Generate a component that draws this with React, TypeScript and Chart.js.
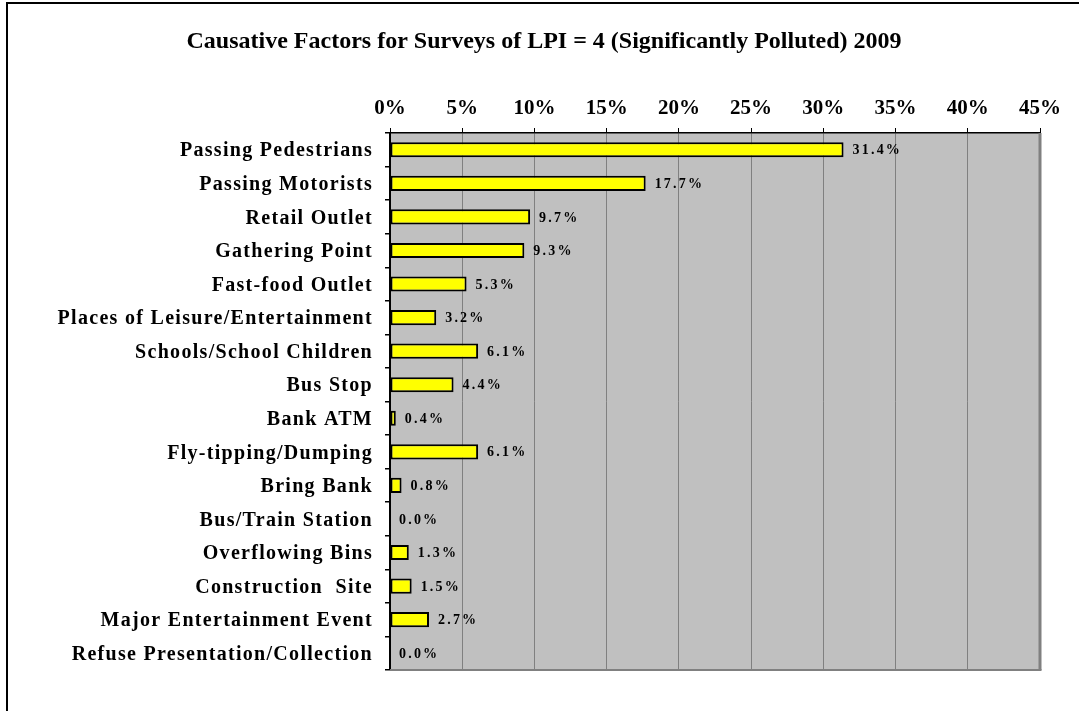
import React, { useEffect, useRef } from "react";
import { Chart, registerables } from "chart.js";

Chart.register(...registerables);

const TITLE = "Causative Factors for Surveys of LPI = 4 (Significantly Polluted) 2009";

const categories = [
  "Passing Pedestrians",
  "Passing Motorists",
  "Retail Outlet",
  "Gathering Point",
  "Fast-food Outlet",
  "Places of Leisure/Entertainment",
  "Schools/School Children",
  "Bus Stop",
  "Bank ATM",
  "Fly-tipping/Dumping",
  "Bring Bank",
  "Bus/Train Station",
  "Overflowing Bins",
  "Construction  Site",
  "Major Entertainment Event",
  "Refuse Presentation/Collection",
];

const values = [31.4, 17.7, 9.7, 9.3, 5.3, 3.2, 6.1, 4.4, 0.4, 6.1, 0.8, 0.0, 1.3, 1.5, 2.7, 0.0];

const xMin = 0;
const xMax = 45;
const xStep = 5;

const SERIF = '"Liberation Serif", "Times New Roman", Times, serif';

const decorPlugin = {
  id: "decor",
  beforeDraw(chart: any) {
    const { ctx, chartArea } = chart;
    // letter-spaced category labels
    const ys = chart.scales.y;
    if (ys && !ys.__spaced) {
      const orig = ys.drawLabels.bind(ys);
      ys.drawLabels = (area: any) => {
        ctx.save();
        (ctx as any).letterSpacing = "1.3px";
        ctx.translate(0, 1.5);
        orig(area);
        ctx.restore();
      };
      ys.__spaced = true;
    }
    ctx.save();
    ctx.fillStyle = "#ffffff";
    ctx.fillRect(0, 0, chart.width, chart.height);
    // outer frame
    ctx.strokeStyle = "#000000";
    ctx.lineWidth = 2;
    ctx.strokeRect(7, 3, chart.width + 50, chart.height + 50);
    // plot background
    ctx.fillStyle = "#c0c0c0";
    ctx.fillRect(chartArea.left, chartArea.top, chartArea.right - chartArea.left, chartArea.bottom - chartArea.top);
    // title
    ctx.fillStyle = "#000000";
    ctx.font = `bold 24px ${SERIF}`;
    ctx.textBaseline = "alphabetic";
    ctx.textAlign = "center";
    ctx.fillText(TITLE, 544, 48);
    ctx.restore();
  },
  afterDatasetsDraw(chart: any) {
    const { ctx, chartArea } = chart;
    ctx.save();
    // right and bottom plot borders
    ctx.strokeStyle = "#808080";
    ctx.lineWidth = 3;
    ctx.beginPath();
    ctx.moveTo(chartArea.right, chartArea.top);
    ctx.lineTo(chartArea.right, chartArea.bottom);
    ctx.stroke();
    ctx.lineWidth = 2;
    ctx.beginPath();
    ctx.moveTo(chartArea.left, chartArea.bottom);
    ctx.lineTo(chartArea.right + 1.5, chartArea.bottom);
    ctx.stroke();
    // data labels
    const meta = chart.getDatasetMeta(0);
    ctx.fillStyle = "#000000";
    ctx.font = `bold 14px ${SERIF}`;
    (ctx as any).letterSpacing = "2.2px";
    ctx.textAlign = "left";
    ctx.textBaseline = "middle";
    meta.data.forEach((bar: any, i: number) => {
      const v = values[i];
      ctx.fillText(v.toFixed(1) + "%", bar.x + 9, bar.y + 1);
    });
    ctx.restore();
  },
};

export default function App() {
  const ref = useRef<HTMLCanvasElement>(null);

  useEffect(() => {
    if (!ref.current) return;
    Chart.defaults.font.family = SERIF;
    const chart = new Chart(ref.current, {
      type: "bar",
      data: {
        labels: categories,
        datasets: [
          {
            data: values,
            backgroundColor: "#ffff00",
            borderColor: "#000000",
            borderWidth: (c: any) => (values[c.dataIndex] === 0 ? 0 : 2),
            borderSkipped: false,
            barPercentage: 0.45,
            categoryPercentage: 1,
          },
        ],
      },
      options: {
        indexAxis: "y",
        animation: false,
        responsive: false,
        devicePixelRatio: 1,
        layout: { padding: { top: 80, right: 39, bottom: 41, left: 0 } },
        plugins: {
          legend: { display: false },
          title: { display: false },
          tooltip: { enabled: false },
        },
        scales: {
          x: {
            position: "top",
            min: xMin,
            max: xMax,
            afterFit: (s: any) => {
              s.height = 53;
            },
            ticks: {
              stepSize: xStep,
              padding: 7,
              color: "#000000",
              font: { size: 21, weight: "bold", family: SERIF },
              callback: (v: any) => v + "%",
            },
            grid: {
              color: "#808080",
              lineWidth: 1,
              drawTicks: true,
              tickLength: 5,
              tickColor: "#000000",
            },
            border: { display: true, color: "#000000", width: 1.5 },
          },
          y: {
            afterFit: (s: any) => {
              s.width = 390;
            },
            ticks: {
              padding: 12,
              color: "#000000",
              font: { size: 20, weight: "bold", family: SERIF },
            },
            grid: {
              offset: true,
              drawOnChartArea: false,
              drawTicks: true,
              tickLength: 5,
              tickColor: "#000000",
              lineWidth: 1.5,
            },
            border: { display: true, color: "#000000", width: 2 },
          },
        },
      },
      plugins: [decorPlugin],
    } as any);
    return () => chart.destroy();
  }, []);

  return (
    <div style={{ position: "absolute", left: 0, top: 0, width: 1079, height: 711 }}>
      <canvas ref={ref} width={1079} height={711} style={{ width: 1079, height: 711, display: "block" }} />
    </div>
  );
}
